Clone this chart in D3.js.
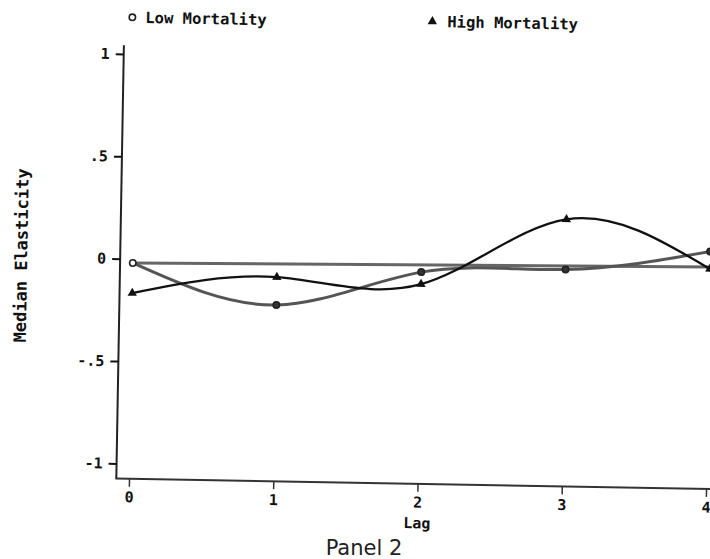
<!DOCTYPE html>
<html><head><meta charset="utf-8">
<script src="https://cdn.jsdelivr.net/npm/d3@7"></script>
<style>html,body{margin:0;padding:0;background:#fff;overflow:hidden}svg{display:block}</style>
</head><body><svg id="chart" width="710" height="559"></svg>
<script>
const lags = [0, 1, 2, 3, 4];
const lowMortality = [-0.02, -0.213, -0.04, -0.015, 0.085];
const highMortality = [-0.167, -0.077, -0.099, 0.23, 0.0];
const refLags = [0, 4];
const refValues = [-0.02, 0.01];
const yTickValues = [-1, -0.5, 0, 0.5, 1];
const yTickLabels = ["-1", "-.5", "0", ".5", "1"];
const xTickValues = [0, 1, 2, 3, 4];
const xTickLabels = ["0", "1", "2", "3", "4"];
const seriesNames = ["Low Mortality", "High Mortality"];
const xTitle = "Lag";
const yTitle = "Median Elasticity";
const panelTitle = "Panel 2";

const svg = d3.select("#chart");
const mono = "'DejaVu Sans Mono', monospace";
const g = svg.append("g").attr("transform", "rotate(1,400,270)");

const x = d3.scaleLinear().domain([0, 4]).range([132.7, 709.8]);
const y = d3.scaleLinear().domain([-1, 1]).range([468.3, 58.8]);
const axisX = 120, axisY = 483.5;

// axis lines
g.append("line").attr("x1", axisX).attr("x2", axisX).attr("y1", 50).attr("y2", axisY)
  .attr("stroke", "#222").attr("stroke-width", 2);
g.append("line").attr("x1", axisX - 1).attr("x2", 730).attr("y1", axisY).attr("y2", axisY)
  .attr("stroke", "#333").attr("stroke-width", 2);

// y axis
const yAxis = g.append("g").attr("transform", `translate(${axisX},0)`)
  .call(d3.axisLeft(y).tickValues(yTickValues).tickSize(8).tickPadding(6)
    .tickFormat((d, i) => yTickLabels[i]));
yAxis.select(".domain").remove();
yAxis.selectAll(".tick line").attr("stroke", "#111").attr("stroke-width", 2);
yAxis.selectAll(".tick text").attr("font-family", mono).attr("font-weight", "bold")
  .attr("font-size", 15).attr("fill", "#111");

// x axis
const xAxis = g.append("g").attr("transform", `translate(0,${axisY})`)
  .call(d3.axisBottom(x).tickValues(xTickValues).tickSize(8).tickPadding(5)
    .tickFormat((d, i) => xTickLabels[i]));
xAxis.select(".domain").remove();
xAxis.selectAll(".tick line").attr("stroke", "#333").attr("stroke-width", 1.5);
xAxis.selectAll(".tick text").attr("font-family", mono).attr("font-weight", "bold")
  .attr("font-size", 15).attr("fill", "#111");

// titles
g.append("text").attr("x", (x(0) + x(4)) / 2).attr("y", 528).attr("text-anchor", "middle")
  .attr("font-family", mono).attr("font-weight", "bold").attr("font-size", 15).attr("fill", "#111")
  .text(xTitle);
g.append("text").attr("transform", "translate(27,262) rotate(-90)").attr("text-anchor", "middle")
  .attr("font-family", mono).attr("font-weight", "bold").attr("font-size", 17).attr("fill", "#111")
  .text(yTitle);
svg.append("text").attr("x", 364).attr("y", 555).attr("text-anchor", "middle")
  .attr("font-family", "'DejaVu Sans', sans-serif").attr("font-size", 21).attr("fill", "#222")
  .text(panelTitle);

// lines
const line = d3.line().x(d => x(d[0])).y(d => y(d[1])).curve(d3.curveNatural);
const straight = d3.line().x(d => x(d[0])).y(d => y(d[1]));

g.append("path").datum(refLags.map((l, i) => [l, refValues[i]]))
  .attr("d", straight).attr("fill", "none").attr("stroke", "#666").attr("stroke-width", 3);
g.append("path").datum(lags.map((l, i) => [l, lowMortality[i]]))
  .attr("d", line).attr("fill", "none").attr("stroke", "#555").attr("stroke-width", 3);
g.append("path").datum(lags.map((l, i) => [l, highMortality[i]]))
  .attr("d", line).attr("fill", "none").attr("stroke", "#111").attr("stroke-width", 2.3);

// markers
g.selectAll(".lowpt").data(lags).enter().append("circle")
  .attr("cx", d => x(d)).attr("cy", (d, i) => y(lowMortality[i])).attr("r", 3.2)
  .attr("fill", (d, i) => i === 0 ? "#fff" : "#333").attr("stroke", "#222").attr("stroke-width", 1.6);
const tri = d3.symbol().type(d3.symbolTriangle).size(38);
g.selectAll(".highpt").data(lags).enter().append("path")
  .attr("d", tri).attr("transform", (d, i) => `translate(${x(d)},${y(highMortality[i])})`)
  .attr("fill", "#111");

// legend
g.append("circle").attr("cx", 128).attr("cy", 22).attr("r", 3.2)
  .attr("fill", "#fff").attr("stroke", "#222").attr("stroke-width", 1.6);
g.append("text").attr("x", 141).attr("y", 27.5).attr("font-family", mono).attr("font-weight", "bold")
  .attr("font-size", 15.5).attr("fill", "#111").text(seriesNames[0]);
g.append("path").attr("d", tri).attr("transform", "translate(428,21)").attr("fill", "#111");
g.append("text").attr("x", 443).attr("y", 26.5).attr("font-family", mono).attr("font-weight", "bold")
  .attr("font-size", 15.5).attr("fill", "#111").text(seriesNames[1]);
</script></body></html>
